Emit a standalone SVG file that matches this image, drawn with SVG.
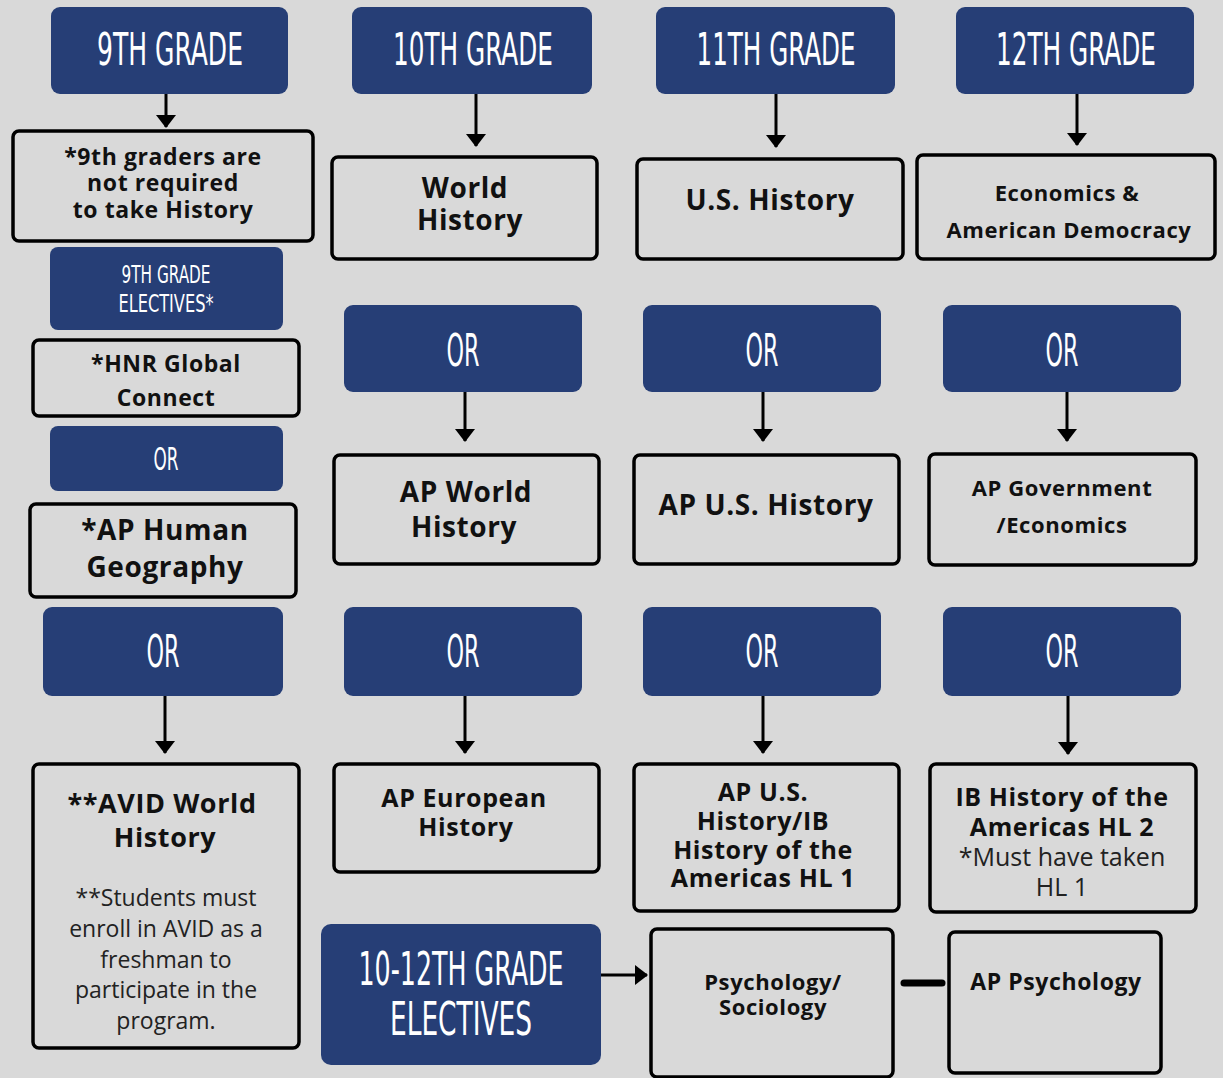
<svg xmlns="http://www.w3.org/2000/svg" width="1223" height="1078" viewBox="0 0 1223 1078">
<defs>
<marker id="ah" viewBox="0 0 13 20" refX="12" refY="10" markerWidth="13" markerHeight="20" markerUnits="userSpaceOnUse" orient="auto">
<path d="M0,0 L13,10 L0,20 Z" fill="#000"/>
</marker>
<style>
.nv{fill:#263e76}
.bx{fill:none;stroke:#000;stroke-width:3.5}
.hd{fill:#fff;font-family:"Liberation Sans Narrow","DejaVu Sans Condensed","Liberation Sans",sans-serif;text-anchor:middle}
.t{fill:#111;font-family:"Open Sans","Noto Sans",sans-serif;font-weight:700;text-anchor:middle;letter-spacing:0.6px}
.l{fill:#222;font-family:"Open Sans","Noto Sans",sans-serif;font-weight:400;text-anchor:middle}
.cn{stroke:#000;stroke-width:3;fill:none}
</style>
</defs>
<rect width="1223" height="1078" fill="#d9d9d9"/>

<g id="connectors">
<line class="cn" x1="166" y1="94" x2="166" y2="127" marker-end="url(#ah)"/>
<line class="cn" x1="476" y1="94" x2="476" y2="146" marker-end="url(#ah)"/>
<line class="cn" x1="776" y1="94" x2="776" y2="147" marker-end="url(#ah)"/>
<line class="cn" x1="1077" y1="94" x2="1077" y2="145" marker-end="url(#ah)"/>
<line class="cn" x1="465" y1="392" x2="465" y2="441" marker-end="url(#ah)"/>
<line class="cn" x1="763" y1="392" x2="763" y2="441" marker-end="url(#ah)"/>
<line class="cn" x1="1067" y1="392" x2="1067" y2="441" marker-end="url(#ah)"/>
<line class="cn" x1="165" y1="696" x2="165" y2="753" marker-end="url(#ah)"/>
<line class="cn" x1="465" y1="696" x2="465" y2="753" marker-end="url(#ah)"/>
<line class="cn" x1="763" y1="696" x2="763" y2="753" marker-end="url(#ah)"/>
<line class="cn" x1="1068" y1="696" x2="1068" y2="754" marker-end="url(#ah)"/>
<line class="cn" x1="601" y1="975" x2="647" y2="975" marker-end="url(#ah)"/>
<line x1="904" y1="983" x2="942" y2="983" stroke="#000" stroke-width="7" stroke-linecap="round"/>
</g>

<g id="h9"><rect class="nv" x="51" y="7" width="237" height="87" rx="9"/><text class="hd" x="170" y="65" font-size="44" textLength="146" lengthAdjust="spacingAndGlyphs">9TH GRADE</text></g>
<g id="h10"><rect class="nv" x="352" y="7" width="240" height="87" rx="9"/><text class="hd" x="473" y="65" font-size="44" textLength="160" lengthAdjust="spacingAndGlyphs">10TH GRADE</text></g>
<g id="h11"><rect class="nv" x="656" y="7" width="239" height="87" rx="9"/><text class="hd" x="776" y="65" font-size="44" textLength="159" lengthAdjust="spacingAndGlyphs">11TH GRADE</text></g>
<g id="h12"><rect class="nv" x="956" y="7" width="238" height="87" rx="9"/><text class="hd" x="1076" y="65" font-size="44" textLength="160" lengthAdjust="spacingAndGlyphs">12TH GRADE</text></g>

<g id="note9"><rect class="bx" x="13" y="131" width="300" height="110" rx="6"/>
<text class="t" font-size="23"><tspan x="163" y="165">*9th graders are</tspan><tspan x="163" y="191">not required</tspan><tspan x="163" y="218">to take History</tspan></text></g>
<g id="worldhist"><rect class="bx" x="332" y="157" width="265" height="102" rx="6"/>
<text class="t" font-size="28"><tspan x="465" y="198">World</tspan><tspan x="470" y="230">History</tspan></text></g>
<g id="ushist"><rect class="bx" x="637" y="159" width="266" height="100" rx="6"/>
<text class="t" font-size="28" x="770" y="210">U.S. History</text></g>
<g id="econ"><rect class="bx" x="917" y="155" width="298" height="104" rx="6"/>
<text class="t" font-size="22"><tspan x="1067" y="201">Economics &amp;</tspan><tspan x="1069" y="238">American Democracy</tspan></text></g>

<g id="elect9"><rect class="nv" x="50" y="247" width="233" height="83" rx="8"/>
<text class="hd" font-size="24" x="166" y="283" textLength="89" lengthAdjust="spacingAndGlyphs">9TH GRADE</text>
<text class="hd" font-size="24" x="166" y="312" textLength="95" lengthAdjust="spacingAndGlyphs">ELECTIVES*</text></g>
<g id="hnr"><rect class="bx" x="33" y="340" width="266" height="76" rx="6"/>
<text class="t" font-size="23"><tspan x="166" y="372">*HNR Global</tspan><tspan x="166" y="406">Connect</tspan></text></g>
<g id="or9a"><rect class="nv" x="50" y="426" width="233" height="65" rx="8"/>
<text class="hd" font-size="32" x="166" y="470" textLength="25" lengthAdjust="spacingAndGlyphs">OR</text></g>
<g id="aphg"><rect class="bx" x="30" y="504" width="266" height="93" rx="6"/>
<text class="t" font-size="28"><tspan x="165" y="540">*AP Human</tspan><tspan x="165" y="577">Geography</tspan></text></g>

<g id="or10a"><rect class="nv" x="344" y="305" width="238" height="87" rx="9"/><text class="hd" x="463" y="366" font-size="44" textLength="33" lengthAdjust="spacingAndGlyphs">OR</text></g>
<g id="or11a"><rect class="nv" x="643" y="305" width="238" height="87" rx="9"/><text class="hd" x="762" y="366" font-size="44" textLength="33" lengthAdjust="spacingAndGlyphs">OR</text></g>
<g id="or12a"><rect class="nv" x="943" y="305" width="238" height="87" rx="9"/><text class="hd" x="1062" y="366" font-size="44" textLength="33" lengthAdjust="spacingAndGlyphs">OR</text></g>

<g id="apworld"><rect class="bx" x="334" y="455" width="265" height="109" rx="6"/>
<text class="t" font-size="28"><tspan x="466" y="502">AP World</tspan><tspan x="464" y="537">History</tspan></text></g>
<g id="apus"><rect class="bx" x="634" y="455" width="265" height="109" rx="6"/>
<text class="t" font-size="28" x="766" y="515">AP U.S. History</text></g>
<g id="apgov"><rect class="bx" x="929" y="454" width="267" height="111" rx="6"/>
<text class="t" font-size="22"><tspan x="1062" y="496">AP Government</tspan><tspan x="1062" y="533">/Economics</tspan></text></g>

<g id="or9b"><rect class="nv" x="43" y="607" width="240" height="89" rx="9"/><text class="hd" x="163" y="667" font-size="44" textLength="33" lengthAdjust="spacingAndGlyphs">OR</text></g>
<g id="or10b"><rect class="nv" x="344" y="607" width="238" height="89" rx="9"/><text class="hd" x="463" y="667" font-size="44" textLength="33" lengthAdjust="spacingAndGlyphs">OR</text></g>
<g id="or11b"><rect class="nv" x="643" y="607" width="238" height="89" rx="9"/><text class="hd" x="762" y="667" font-size="44" textLength="33" lengthAdjust="spacingAndGlyphs">OR</text></g>
<g id="or12b"><rect class="nv" x="943" y="607" width="238" height="89" rx="9"/><text class="hd" x="1062" y="667" font-size="44" textLength="33" lengthAdjust="spacingAndGlyphs">OR</text></g>

<g id="avid"><rect class="bx" x="33" y="764" width="266" height="284" rx="6"/>
<text class="t" font-size="27"><tspan x="162" y="813">**AVID World</tspan><tspan x="165" y="847">History</tspan></text>
<text class="l" font-size="23"><tspan x="166" y="906">**Students must</tspan><tspan x="166" y="937">enroll in AVID as a</tspan><tspan x="166" y="968">freshman to</tspan><tspan x="166" y="998">participate in the</tspan><tspan x="166" y="1029">program.</tspan></text></g>
<g id="apeuro"><rect class="bx" x="334" y="764" width="265" height="108" rx="6"/>
<text class="t" font-size="25"><tspan x="464" y="807">AP European</tspan><tspan x="466" y="836">History</tspan></text></g>
<g id="apusib"><rect class="bx" x="634" y="764" width="265" height="147" rx="6"/>
<text class="t" font-size="25"><tspan x="763" y="801">AP U.S.</tspan><tspan x="763" y="830">History/IB</tspan><tspan x="763" y="859">History of the</tspan><tspan x="763" y="887">Americas HL 1</tspan></text></g>
<g id="ibhl2"><rect class="bx" x="930" y="764" width="266" height="148" rx="6"/>
<text class="t" font-size="25"><tspan x="1062" y="806">IB History of the</tspan><tspan x="1062" y="836">Americas HL 2</tspan></text>
<text class="l" font-size="25"><tspan x="1062" y="866">*Must have taken</tspan><tspan x="1062" y="896">HL 1</tspan></text></g>

<g id="elect1012"><rect class="nv" x="321" y="924" width="280" height="141" rx="10"/>
<text class="hd" font-size="46" x="461" y="985" textLength="205" lengthAdjust="spacingAndGlyphs">10-12TH GRADE</text>
<text class="hd" font-size="46" x="461" y="1035" textLength="142" lengthAdjust="spacingAndGlyphs">ELECTIVES</text></g>
<g id="psych"><rect class="bx" x="651" y="929" width="242" height="148" rx="6"/>
<text class="t" font-size="22"><tspan x="773" y="990">Psychology/</tspan><tspan x="773" y="1015">Sociology</tspan></text></g>
<g id="appsych"><rect class="bx" x="949" y="932" width="212" height="141" rx="6"/>
<text class="t" font-size="23" x="1056" y="990">AP Psychology</text></g>
</svg>
